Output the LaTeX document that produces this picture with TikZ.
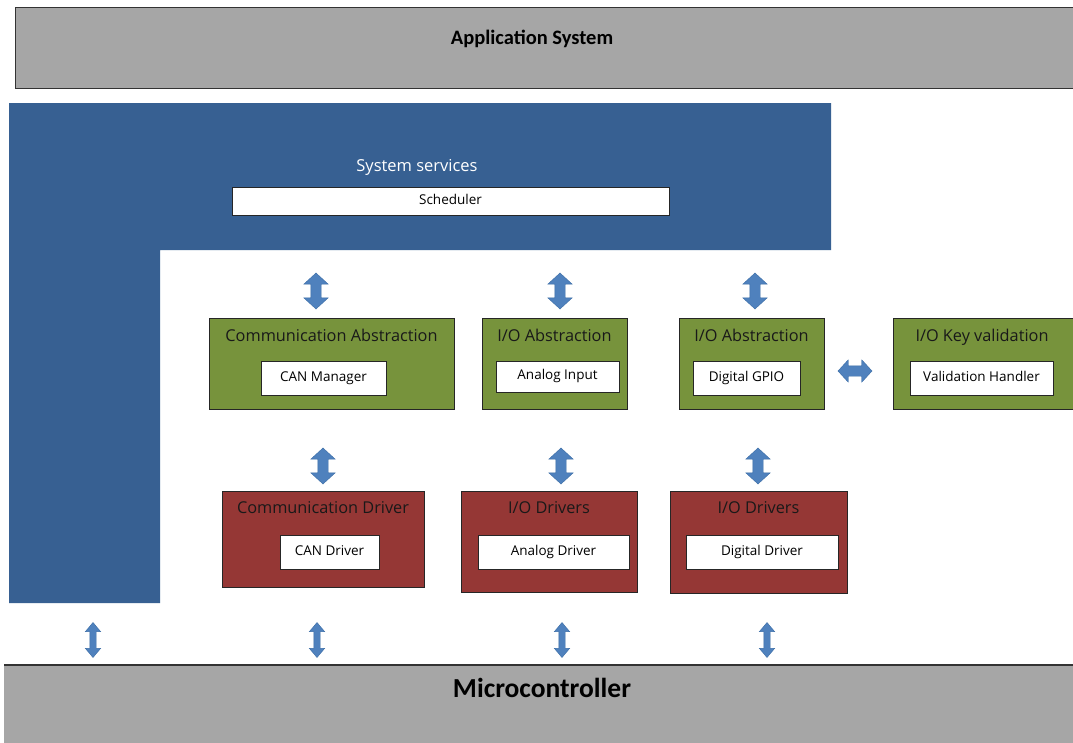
\documentclass[tikz,border=0pt]{standalone}
\usepackage{fontspec}
\setmainfont{Carlito}
\newfontfamily\segoe{Open Sans}
\usetikzlibrary{shapes.arrows}
\definecolor{appgray}{HTML}{A6A6A6}
\definecolor{ssblue}{HTML}{376092}
\definecolor{absgreen}{HTML}{77933C}
\definecolor{drvred}{HTML}{953735}
\definecolor{arrblue}{HTML}{4F81BD}
\definecolor{arredge}{HTML}{3A6CA6}
\tikzset{
  layerbox/.style={draw=black!80, line width=0.8pt},
  grnbox/.style={fill=absgreen, draw=black!85, line width=0.9pt},
  redbox/.style={fill=drvred, draw=black!85, line width=0.9pt},
  inbox/.style={fill=white, draw=black!85, line width=0.9pt, inner sep=0pt, text height=10pt, text depth=3.5pt, font=\segoe\fontsize{13.5}{16}\selectfont},
  ttl/.style={font=\segoe\fontsize{16.3}{19}\selectfont, text=black!90, inner sep=0pt, text height=12pt, text depth=4pt},
  varr/.style={shape=double arrow, fill=arrblue, draw=arredge, line width=0.4pt, rotate=90,
    minimum height=36pt, inner xsep=0pt, inner ysep=5pt, double arrow head extend=7pt,
    double arrow tip angle=95},
  sarr/.style={shape=double arrow, fill=arrblue, draw=arredge, line width=0.4pt, rotate=90,
    minimum height=35pt, inner xsep=0pt, inner ysep=3pt, double arrow head extend=4.5pt,
    double arrow tip angle=80},
  harr/.style={shape=double arrow, fill=arrblue, draw=arredge, line width=0.4pt,
    minimum height=34pt, inner xsep=0pt, inner ysep=5pt, double arrow head extend=6pt,
    double arrow tip angle=95}
}
\begin{document}
\begin{tikzpicture}[x=1pt,y=-1pt]
\useasboundingbox (0,0) rectangle (1073,742);
\fill[white] (0,0) rectangle (1073,742);
% Application system
\draw[layerbox, fill=appgray] (15,7) rectangle (1080,88);
\node[font=\bfseries\fontsize{20.5}{24}\selectfont, inner sep=0pt] (app) at (532,39) {Application System};
% System services L shape
\fill[ssblue] (9,103) -- (831,103) -- (831,250) -- (160,250) -- (160,603) -- (9,603) -- cycle;
\node[font=\segoe\fontsize{16.5}{19}\selectfont, text=white, inner sep=0pt] (ss) at (417,167) {System services};
\node[inbox, minimum width=437pt, minimum height=28pt] (sched) at (450.5,201) {Scheduler};
% Abstraction layer
\draw[grnbox] (209,318) rectangle (454,409);
\node[ttl] (ca) at (331.5,337) {Communication Abstraction};
\node[inbox, minimum width=125pt, minimum height=34pt] (canm) at (323.5,378) {CAN Manager};
\draw[grnbox] (482,318) rectangle (627,409);
\node[ttl] (ioa1) at (554.5,337) {I/O Abstraction};
\node[inbox, minimum width=123pt, minimum height=31pt] (ai) at (557.5,376.5) {Analog Input};
\draw[grnbox] (679,318) rectangle (824,409);
\node[ttl] (ioa2) at (751.5,337) {I/O Abstraction};
\node[inbox, minimum width=107pt, minimum height=34pt] (gpio) at (746.5,378) {Digital GPIO};
\draw[grnbox] (893,318) rectangle (1080,409);
\node[ttl] (kv) at (982,337) {I/O Key validation};
\node[inbox, minimum width=143pt, minimum height=34pt] (vh) at (981.5,378) {Validation Handler};
% Driver layer
\draw[redbox] (222,491) rectangle (424,587);
\node[ttl] (cd) at (323,509) {Communication Driver};
\node[inbox, minimum width=99pt, minimum height=34pt] (cand) at (329.5,552) {CAN Driver};
\draw[redbox] (461,491) rectangle (637,592);
\node[ttl] (iod1) at (549,509) {I/O Drivers};
\node[inbox, minimum width=151pt, minimum height=34pt] (ad) at (553.5,552) {Analog Driver};
\draw[redbox] (670,491) rectangle (847,593);
\node[ttl] (iod2) at (758.5,509) {I/O Drivers};
\node[inbox, minimum width=152pt, minimum height=34pt] (dd) at (762,552) {Digital Driver};
% Microcontroller
\fill[appgray] (4,665) rectangle (1080,745);
\draw[black!80, line width=1.2pt] (4,665) -- (1080,665);
\node[font=\bfseries\fontsize{27.5}{32}\selectfont, inner sep=0pt] (mc) at (542,688) {Microcontroller};
% arrows
\node[varr] (a1) at (316,291) {};
\node[varr] (a2) at (560,291) {};
\node[varr] (a3) at (755,291) {};
\node[harr] (a4) at (855,371) {};
\node[varr] (b1) at (323,466) {};
\node[varr] (b2) at (561,466) {};
\node[varr] (b3) at (758,466) {};
\node[sarr] (c1) at (93,640) {};
\node[sarr] (c2) at (317,640) {};
\node[sarr] (c3) at (562,640) {};
\node[sarr] (c4) at (767,640) {};
\end{tikzpicture}
\end{document}
